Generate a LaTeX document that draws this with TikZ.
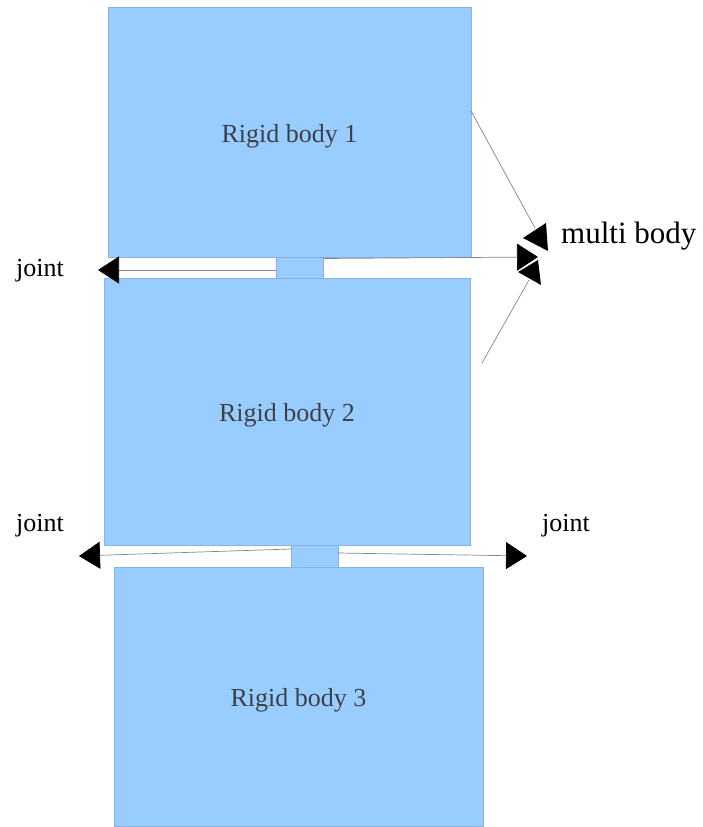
\documentclass[tikz,border=0pt]{standalone}
\usepackage{fontspec}
\setmainfont{Liberation Serif}
\usetikzlibrary{arrows.meta,calc}
\definecolor{bodyfill}{HTML}{99CCFF}
\definecolor{bodyedge}{HTML}{8AB4DE}
\definecolor{bodytext}{HTML}{3C4148}
\definecolor{wire}{HTML}{858585}
\begin{document}
\begin{tikzpicture}[x=1pt,y=-1pt,
  rigid/.style={draw=bodyedge,fill=bodyfill,line width=0.7pt,inner sep=0pt,outer sep=0pt},
  hinge/.style={rigid},
  bodylabel/.style={text=bodytext,font=\fontsize{26}{30}\selectfont,anchor=base,inner sep=0pt},
  jointlabel/.style={text=black,font=\fontsize{26}{30}\selectfont,anchor=base west,inner sep=0pt},
  wireline/.style={draw=wire,line width=0.7pt},
  jointarrow/.style={wireline,-{Triangle[length=21pt,width=27pt,color=black]}}]
\useasboundingbox (0,0) rectangle (702,827);

% rigid bodies
\node[rigid,minimum width=363pt,minimum height=250pt] (body1) at (289.5,132) {};
\node[rigid,minimum width=366pt,minimum height=267pt] (body2) at (287,411.5) {};
\node[rigid,minimum width=369pt,minimum height=259pt] (body3) at (298.5,696.5) {};

% joints between the bodies
\node[hinge,minimum width=47pt,minimum height=21pt] (j1) at (299.5,267.5) {};
\node[hinge,minimum width=47pt,minimum height=22pt] (j2) at (314.5,556) {};

% body names
\node[bodylabel] (t1) at (289.5,142) {Rigid body 1};
\node[bodylabel] (t2) at (287,421.5) {Rigid body 2};
\node[bodylabel] (t3) at (298.5,706.5) {Rigid body 3};

% joint labels
\node[jointlabel] (jl1) at (16,276) {joint};
\node[jointlabel] (jl2) at (16,531) {joint};
\node[jointlabel] (jl3) at (542,531) {joint};
\node[jointlabel,font=\fontsize{31}{36}\selectfont] (mb) at (561,243) {multi body};

% arrow ends
\coordinate (a1) at (98,270);
\coordinate (a2) at (538,257);
\coordinate (a3) at (79,556);
\coordinate (a4) at (527,556);
\coordinate (m1) at (535,228);
\coordinate (m2) at (529,280);
\coordinate (m2s) at (482,363);

% joint arrows
\draw[jointarrow] ($(j1.south west)+(0,-8)$) -- (a1);
\draw[jointarrow] ($(j1.north east)+(0,1.5)$) -- (a2);
\draw[jointarrow] ($(j2.north west)+(0,4)$) -- (a3);
\draw[jointarrow] ($(j2.east)+(0,-3)$) -- (a4);

% multi body pointers
\draw[wireline] ($(body1.north east)+(0,104)$) -- (m1);
\draw[wireline] (m2s) -- (m2);
\fill[black] (523,238) -- (546,223) -- (548,251) -- cycle;
\fill[black] (518,272) -- (538,260) -- (541,285) -- cycle;
\end{tikzpicture}
\end{document}
